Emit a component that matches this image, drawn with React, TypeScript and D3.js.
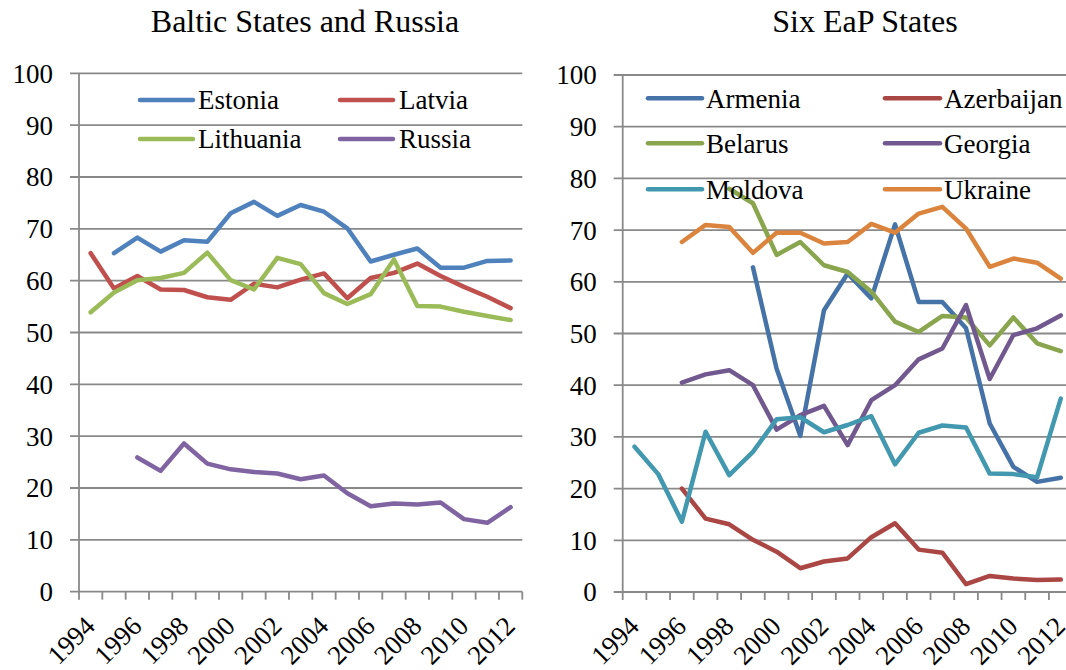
import React from "react";
import * as d3 from "d3";

const years = [1994, 1995, 1996, 1997, 1998, 1999, 2000, 2001, 2002, 2003, 2004, 2005, 2006, 2007, 2008, 2009, 2010, 2011, 2012];
const yearLabels = [1994, 1996, 1998, 2000, 2002, 2004, 2006, 2008, 2010, 2012];
const yTicks = [0, 10, 20, 30, 40, 50, 60, 70, 80, 90, 100];

type V = number | null;

// Baltic States and Russia
const estonia: V[] = [null, 65.3, 68.3, 65.6, 67.8, 67.5, 73.0, 75.2, 72.5, 74.6, 73.3, 70.1, 63.7, 65.0, 66.2, 62.5, 62.5, 63.8, 63.9];
const latvia: V[] = [65.3, 58.5, 60.9, 58.3, 58.2, 56.8, 56.3, 59.4, 58.7, 60.2, 61.4, 56.6, 60.5, 61.5, 63.3, 60.9, 58.8, 56.9, 54.7];
const lithuania: V[] = [53.9, 57.7, 60.1, 60.5, 61.5, 65.4, 60.1, 58.3, 64.4, 63.2, 57.6, 55.5, 57.4, 64.1, 55.1, 55.0, 54.0, 53.2, 52.4];
const russia: V[] = [null, null, 25.9, 23.3, 28.6, 24.7, 23.6, 23.1, 22.8, 21.7, 22.4, 19.0, 16.5, 17.0, 16.8, 17.2, 14.0, 13.3, 16.3];

// Six EaP States
const armenia: V[] = [null, null, null, null, null, 62.8, 43.2, 30.2, 54.5, 61.6, 56.8, 71.1, 56.1, 56.1, 51.0, 32.6, 24.2, 21.3, 22.1];
const azerbaijan: V[] = [null, null, 20.0, 14.2, 13.1, 10.1, 7.8, 4.6, 5.9, 6.5, 10.6, 13.3, 8.2, 7.6, 1.5, 3.1, 2.6, 2.3, 2.4];
const belarus: V[] = [null, null, null, null, 78.0, 75.2, 65.2, 67.7, 63.2, 61.9, 58.1, 52.3, 50.3, 53.4, 53.1, 47.7, 53.1, 48.1, 46.6];
const georgia: V[] = [null, null, 40.5, 42.1, 42.9, 40.0, 31.4, 34.2, 36.0, 28.4, 37.1, 40.0, 45.0, 47.1, 55.5, 41.2, 49.7, 51.0, 53.5];
const moldova: V[] = [28.1, 22.8, 13.6, 31.0, 22.6, 27.1, 33.4, 33.8, 30.9, 32.3, 34.0, 24.7, 30.8, 32.2, 31.8, 22.9, 22.8, 22.2, 37.4];
const ukraine: V[] = [null, null, 67.7, 71.0, 70.6, 65.6, 69.5, 69.5, 67.4, 67.7, 71.2, 69.5, 73.2, 74.5, 70.3, 62.9, 64.5, 63.7, 60.6];

const balticNames = ["Estonia", "Latvia", "Lithuania", "Russia"];
const balticValues = [estonia, latvia, lithuania, russia];
const balticColors = ["#4F81BD", "#C0504D", "#9BBB59", "#8064A2"];

const eapNames = ["Armenia", "Azerbaijan", "Belarus", "Georgia", "Moldova", "Ukraine"];
const eapValues = [armenia, azerbaijan, belarus, georgia, moldova, ukraine];
const eapColors = ["#4572A7", "#AA4643", "#89A54E", "#71588F", "#4198AF", "#DB843D"];

const FONT = "'Liberation Serif', 'Times New Roman', serif";
const GRID = "#898989";

type Geo = {
  x0: number; x1: number; y0: number; y1: number; titleX: number;
  legRows: number[]; legCols: { l0: number; l1: number; t: number }[];
};

function Chart({ title, names, values, colors, geo }: { title: string; names: string[]; values: V[][]; colors: string[]; geo: Geo }) {
  const x = d3.scaleBand<number>().domain(years).range([geo.x0, geo.x1]).paddingInner(0).paddingOuter(0);
  const y = d3.scaleLinear().domain([0, 100]).range([geo.y1, geo.y0]);
  const cx = (yr: number) => (x(yr) as number) + x.bandwidth() / 2;
  const line = d3.line<{ yr: number; v: V }>()
    .defined((d) => d.v !== null)
    .x((d) => cx(d.yr))
    .y((d) => y(d.v as number));
  const boundaries = [...years.map((yr) => x(yr) as number), geo.x1];
  return (
    <g>
      <text x={geo.titleX} y={32} textAnchor="middle" fontFamily={FONT} fontSize={32} fill="#000">{title}</text>
      {yTicks.map((t) => (
        <g key={t}>
          <line x1={geo.x0 - 9} x2={geo.x1} y1={y(t)} y2={y(t)} stroke={GRID} strokeWidth={1.8} />
          <text x={geo.x0 - 26} y={y(t)} dy="0.35em" textAnchor="end" fontFamily={FONT} fontSize={27} fill="#000">{t}</text>
        </g>
      ))}
      <line x1={geo.x0} x2={geo.x0} y1={geo.y0} y2={geo.y1} stroke={GRID} strokeWidth={1.8} />
      {boundaries.map((b, i) => (
        <line key={i} x1={b} x2={b} y1={geo.y1} y2={geo.y1 + 8} stroke={GRID} strokeWidth={1.8} />
      ))}
      {yearLabels.map((yr) => (
        <text key={yr} transform={`translate(${cx(yr) + 6},${geo.y1 + 36}) rotate(-45)`} textAnchor="end" fontFamily={FONT} fontSize={27} fill="#000">{yr}</text>
      ))}
      {values.map((vals, i) => (
        <path key={names[i]} d={line(years.map((yr, j) => ({ yr, v: vals[j] }))) || ""} fill="none" stroke={colors[i]} strokeWidth={4.5} strokeLinejoin="round" strokeLinecap="round" />
      ))}
      {names.map((n, i) => {
        const row = Math.floor(i / 2);
        const col = geo.legCols[i % 2];
        const yy = geo.legRows[row];
        return (
          <g key={n}>
            <line x1={col.l0} x2={col.l1} y1={yy} y2={yy} stroke={colors[i]} strokeWidth={4.5} strokeLinecap="round" />
            <text x={col.t} y={yy} dy="0.35em" fontFamily={FONT} fontSize={27} fill="#000">{n}</text>
          </g>
        );
      })}
    </g>
  );
}

const leftGeo: Geo = {
  x0: 79, x1: 522.3, y0: 73.3, y1: 591.7, titleX: 305,
  legRows: [100, 139],
  legCols: [{ l0: 140, l1: 193, t: 198 }, { l0: 340, l1: 393, t: 399 }],
};
const rightGeo: Geo = {
  x0: 622.7, x1: 1072.6, y0: 75, y1: 592, titleX: 865,
  legRows: [98.3, 143.3, 189.3],
  legCols: [{ l0: 648, l1: 702, t: 706 }, { l0: 885, l1: 940, t: 944 }],
};

export default function App() {
  return (
    <svg width={1066} height={670} style={{ position: "absolute", left: 0, top: 0, background: "#fff" }}>
      <rect width={1066} height={670} fill="#fff" />
      <Chart title="Baltic States and Russia" names={balticNames} values={balticValues} colors={balticColors} geo={leftGeo} />
      <Chart title="Six EaP States" names={eapNames} values={eapValues} colors={eapColors} geo={rightGeo} />
    </svg>
  );
}
